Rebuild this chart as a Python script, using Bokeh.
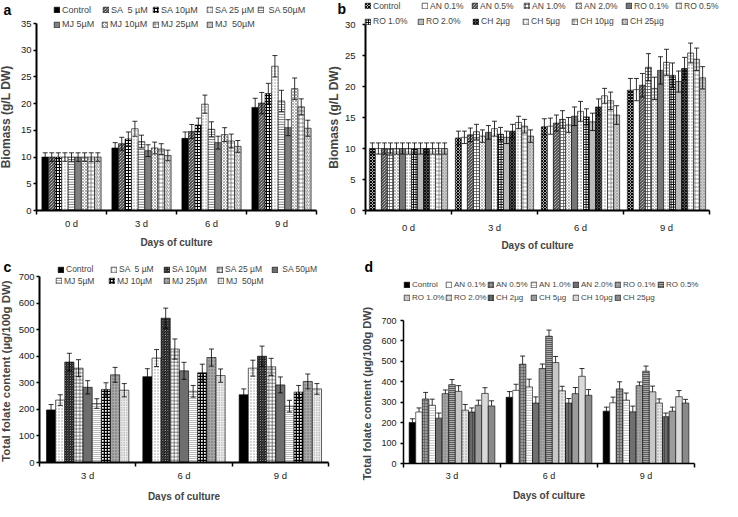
from bokeh.plotting import figure
from bokeh.models import (ColumnDataSource, Whisker, TeeHead, Legend, LegendItem,
                          FixedTicker, Label, Range1d)
from bokeh.layouts import row, column
from bokeh.embed import file_html
from bokeh.resources import INLINE

FONT = "Liberation Sans"

# ---------------- data ----------------
days_ab = ["0 d", "3 d", "6 d", "9 d"]
days_cd = ["3 d", "6 d", "9 d"]

names_a = ["Control", "SA  5 µM", "SA 10µM", "SA 25 µM", " SA 50µM",
           "MJ 5µM", "MJ 10µM", "MJ 25µM", "MJ  50µM"]
vals_a = [[10.0, 11.7, 13.5, 19.3], [10.0, 12.5, 14.8, 20.1], [10.0, 13.4, 16.0, 21.9],
          [10.0, 15.3, 19.9, 27.0], [10.0, 12.9, 15.2, 20.5], [10.0, 11.2, 12.7, 15.5],
          [10.0, 11.7, 14.2, 22.8], [10.0, 11.5, 13.0, 19.4], [10.0, 10.3, 12.0, 15.4]]
errs_a = [[0.8, 1.0, 1.2, 1.7], [0.8, 1.2, 1.3, 2.0], [0.8, 1.3, 1.3, 1.9],
          [0.8, 1.4, 1.7, 2.0], [0.8, 1.2, 1.4, 2.0], [0.8, 1.1, 1.2, 1.5],
          [0.8, 1.1, 1.3, 2.0], [0.8, 1.0, 1.3, 1.5], [0.8, 1.0, 1.1, 1.5]]

names_b = ["Control", "AN 0.1%", "AN 0.5%", "AN 1.0%", "AN 2.0%", "RO 0.1%", "RO 0.5%",
           "RO 1.0%", "RO 2.0%", "CH 2µg", "CH 5µg", "CH 10µg", "CH 25µg"]
vals_b = [[10, 11.7, 13.5, 19.4], [10, 11.8, 13.6, 19.5], [10, 12.2, 14.1, 20.2],
          [10, 12.7, 14.7, 23.1], [10, 12.0, 13.8, 19.7], [10, 12.6, 15.2, 22.6],
          [10, 13.2, 16.0, 23.9], [10, 12.3, 15.1, 21.8], [10, 11.8, 14.3, 20.8],
          [10, 12.8, 16.7, 22.9], [10, 14.2, 18.5, 25.4], [10, 13.6, 17.7, 24.4],
          [10, 12.0, 15.4, 21.4]]
errs_b = [[0.9, 1.1, 1.3, 1.9], [0.9, 1.0, 1.3, 1.8], [0.9, 1.1, 1.3, 1.9],
          [0.9, 1.2, 1.4, 2.2], [0.9, 1.0, 1.2, 1.8], [0.9, 1.1, 1.5, 2.2],
          [0.9, 1.2, 1.6, 2.1], [0.9, 1.1, 1.3, 2.0], [0.9, 1.0, 1.4, 1.7],
          [0.9, 1.1, 1.3, 1.8], [0.9, 1.0, 1.2, 1.6], [0.9, 1.1, 1.4, 1.8],
          [0.9, 1.0, 1.5, 1.8]]

names_c = ["Control", "SA  5 µM", "SA 10µM", "SA 25 µM", " SA 50µM",
           "MJ 5µM", "MJ 10µM", "MJ 25µM", "MJ  50µM"]
vals_c = [[198, 323, 255], [235, 393, 355], [378, 543, 400], [355, 427, 360],
          [283, 345, 292], [222, 268, 212], [275, 338, 265], [330, 395, 305],
          [272, 327, 277]]
errs_c = [[20, 30, 22], [20, 32, 30], [33, 38, 38], [32, 38, 32], [25, 32, 30],
          [18, 22, 22], [25, 32, 25], [28, 32, 28], [25, 25, 20]]

names_d = ["Control", "AN 0.1%", "AN 0.5%", "AN 1.0%", "AN 2.0%", "RO 0.1%", "RO 0.5%",
           "RO 1.0%", "RO 2.0%", "CH 2µg", "CH 5µg", "CH 10µg", "CH 25µg"]
vals_d = [[201, 324, 256], [252, 358, 297], [316, 486, 365], [285, 375, 310],
          [222, 296, 253], [342, 465, 381], [386, 623, 452], [353, 494, 351],
          [261, 356, 296], [252, 296, 229], [285, 342, 256], [343, 427, 327],
          [282, 334, 296]]
errs_d = [[18, 28, 20], [20, 30, 28], [32, 40, 35], [30, 38, 35], [25, 30, 28],
          [18, 22, 18], [25, 30, 25], [28, 30, 28], [28, 22, 20], [20, 22, 18],
          [25, 30, 20], [28, 38, 30], [25, 28, 18]]

# ---------------- styles ----------------
def H(fill, pat=None, col="black", scale=3, weight=0.8):
    d = dict(fill_color=fill)
    if pat:
        d.update(hatch_pattern=pat, hatch_color=col, hatch_scale=scale, hatch_weight=weight)
    return d

styles_a = [H("black"), H("white", "\\", "black", 3, 0.9), H("white", "+", "black", 3, 1.2),
            H("white", ".", "#999999", 3, 0.6), H("white", "-", "#444444", 2.5, 0.8),
            H("#808080"), H("white", "x", "#777777", 3, 0.6), H("white", "+", "#444444", 4, 0.6),
            H("white", "/", "#555555", 3.5, 0.7)]
styles_b = [H("white", "x", "black", 3, 1.2), H("white"), H("white", "\\", "black", 3, 0.9),
            H("white", "+", "#444444", 3, 0.7), H("white", "x", "#888888", 3, 0.6),
            H("#777777"), H("white", ".", "#777777", 3, 0.6), H("white", "+", "black", 2.5, 1.3),
            H("#bbbbbb"), H("#555555", "x", "black", 3, 0.8), H("white", ".", "#888888", 3, 0.6),
            H("white", "+", "#555555", 4, 0.6), H("#d0d0d0", "x", "#888888", 3, 0.5)]
styles_c = [H("black"), H("white", ".", "#999999", 3, 0.6), H("white", "\\", "black", 2.5, 1.0),
            H("white", "+", "#444444", 3.5, 0.7), H("#6e6e6e"), H("white", "-", "#555555", 2, 0.8),
            H("white", "+", "black", 3, 1.6), H("#a8a8a8", ".", "#666666", 3, 0.5),
            H("#eeeeee", ".", "#888888", 2.5, 0.6)]
styles_d = [H("black"), H("white"), H("#9a9a9a", "+", "#555555", 3, 0.6),
            H("white", "-", "#888888", 2.5, 0.6), H("#707070"), H("#a4a4a4", ".", "#777777", 3, 0.5),
            H("#aaaaaa", "-", "black", 2, 0.9), H("#c8c8c8"), H("#e4e4e4", ".", "#999999", 3, 0.5),
            H("#6a6a6a", "|", "#333333", 3, 0.6), H("#9c9c9c"), H("#dadada"), H("#8a8a8a")]


def panel(letter, days, names, vals, errs, styles, W, Hh, x0, x1, y0, yt,
          ymax, ystep, bw, yl, ylfs, tick_fs, lab_std, axlab_std, xstd, xlab_std,
          leg_rows, leg_fs, leg_lh, letter_pos, axis_w, both_caps=True):
    n_days = len(days)
    ppx = (x1 - x0) / n_days
    ppy = (y0 - yt) / ymax
    xr = Range1d(-x0 / ppx, n_days + (W - x1) / ppx)
    yr = Range1d(-(Hh - y0) / ppy, ymax + yt / ppy)
    p = figure(width=W, height=Hh, output_backend="svg", toolbar_location=None,
               x_range=xr, y_range=yr, title=None,
               min_border_left=0, min_border_right=0, min_border_top=0,
               min_border_bottom=0, background_fill_color="white",
               border_fill_color="white")
    p.outline_line_color = None
    p.xgrid.visible = False
    p.ygrid.visible = False
    n = len(names)
    rends = []
    for j in range(n):
        xs = [i + 0.5 + (j - (n - 1) / 2) * bw for i in range(n_days)]
        up = [v + e for v, e in zip(vals[j], errs[j])]
        lo = [v - e for v, e in zip(vals[j], errs[j])] if both_caps else list(vals[j])
        src = ColumnDataSource(dict(x=xs, top=vals[j], up=up, lo=lo))
        r = p.vbar(x="x", top="top", width=bw, source=src, line_color="black",
                   line_width=0.6, **styles[j])
        rends.append(r)
        w = Whisker(source=src, base="x", upper="up", lower="lo", level="overlay",
                    line_width=0.8, line_color="black",
                    upper_head=TeeHead(size=5, line_width=0.8, line_color="black"),
                    lower_head=TeeHead(size=5, line_width=0.8, line_color="black") if both_caps else None)
        p.add_layout(w)
    # axes placed at the data origin
    xa = p.xaxis[0]
    xa.fixed_location = 0
    xa.bounds = (0, n_days)
    xa.ticker = FixedTicker(ticks=[i + 0.5 for i in range(n_days)],
                            minor_ticks=list(range(n_days + 1)))
    xa.major_label_overrides = {i + 0.5: d for i, d in enumerate(days)}
    xa.major_tick_out = 0
    xa.major_tick_in = 0
    xa.minor_tick_out = 4
    xa.minor_tick_in = 0
    xa.major_label_standoff = xstd
    xa.axis_label = "Days of culture"
    xa.axis_label_text_font = FONT
    xa.axis_label_text_font_style = "bold"
    xa.axis_label_text_font_size = "10px"
    xa.axis_label_standoff = xlab_std
    ya = p.yaxis[0]
    ya.fixed_location = 0
    ya.bounds = (0, ymax)
    ya.ticker = FixedTicker(ticks=list(range(0, ymax + 1, ystep)), minor_ticks=[])
    ya.major_tick_out = 3
    ya.major_tick_in = 0
    ya.major_label_standoff = lab_std
    ya.axis_label = yl
    ya.axis_label_text_font = FONT
    ya.axis_label_text_font_style = "bold"
    ya.axis_label_text_font_size = ylfs
    ya.axis_label_standoff = axlab_std
    for ax in (xa, ya):
        ax.axis_line_width = axis_w
        ax.axis_line_color = "black"
        ax.major_tick_line_color = "black"
        ax.minor_tick_line_color = "black"
        ax.major_tick_line_width = 1.5
        ax.minor_tick_line_width = 1.5
        ax.major_label_text_font = FONT
        ax.major_label_text_font_size = tick_fs
        ax.major_label_text_color = "#222222"
    # legends, one per item, positioned in screen units inside the frame
    idx = 0
    for yc, cols in leg_rows:
        for cx in cols:
            if idx >= n:
                break
            leg = Legend(items=[LegendItem(label=names[idx], renderers=[rends[idx]])],
                         location=(cx, Hh - (yc + leg_lh / 2)),
                         orientation="horizontal", padding=0, margin=0, spacing=0,
                         glyph_width=7, glyph_height=7, label_standoff=2,
                         label_text_font=FONT, label_text_font_size=leg_fs,
                         label_height=leg_lh, label_width=5,
                         border_line_color=None, background_fill_alpha=0)
            p.add_layout(leg)
            idx += 1
    lx, ly = letter_pos
    p.add_layout(Label(x=lx, y=Hh - ly, x_units="screen", y_units="screen",
                       text=letter, text_font=FONT, text_font_style="bold",
                       text_font_size="14px", text_baseline="top", text_color="black"))
    return p


pa = panel("a", days_ab, names_a, vals_a, errs_a, styles_a, 324, 251, 36, 316, 210, 23,
           35, 5, 0.094, "Biomass (g/L DW)", "12px", "9.5px", 2, 5, 3, 5,
           [(9.7, [53, 102, 152, 206, 257]), (24.2, [53, 101, 152, 206])],
           "9px", 10, (3, 1), 2)
pb = panel("b", days_ab, names_b, vals_b, errs_b, styles_b, 398, 251, 41, 385, 210, 24,
           30, 5, 0.07, "Biomass (g/L DW)", "12px", "9.5px", 7, 1, 7, 4,
           [(5.8, [40, 97, 147, 199, 251, 301, 351]), (21.3, [40, 93, 148, 198, 247, 297])],
           "8.5px", 10, (13, 0), 2)
pc = panel("c", days_cd, names_c, vals_c, errs_c, styles_c, 362, 250, 39, 328, 211, 25,
           700, 100, 0.095, "Total  folate content (µg/100g DW)", "11.5px", "9.5px", 2, 4, 3, 7,
           [(18.7, [57, 110, 163, 216, 271]), (30.0, [55, 108, 163, 217])],
           "8.5px", 9, (3, 7), 2)
pd = panel("d", days_cd, names_d, vals_d, errs_d, styles_d, 360, 250, 41, 332, 212, 69,
           700, 100, 0.068, "Total  folate content (µg/100g DW)", "11px", "9px", 4, 5, 3, 6,
           [(33, [41, 83, 125, 168, 210, 252, 295]), (46.5, [41, 83, 125, 168, 210, 252])],
           "8px", 9, (2, 7), 1.5, both_caps=False)

layout = column(row(pa, pb), row(pc, pd))
open("out.html", "w").write(file_html(layout, INLINE))
